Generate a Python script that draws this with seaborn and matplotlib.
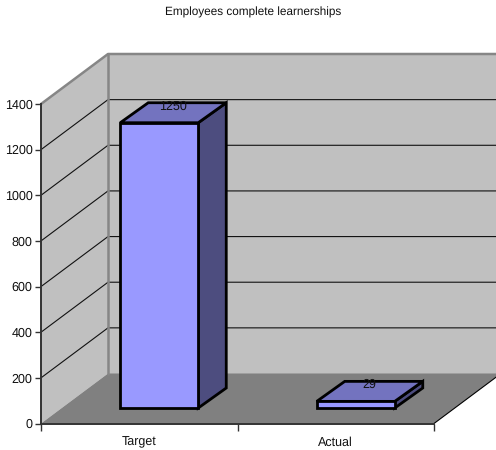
import matplotlib
matplotlib.use("Agg")
import matplotlib.pyplot as plt
from matplotlib.patches import Polygon
from matplotlib.transforms import Affine2D
import seaborn as sns

title = "Employees complete learnerships"
categories = ["Target", "Actual"]
values = [1250, 29]
y_ticks = [0, 200, 400, 600, 800, 1000, 1200, 1400]

sns.set_theme(style="white")
plt.rcParams["font.family"] = ["Liberation Sans", "DejaVu Sans"]
plt.rcParams["text.hinting"] = "no_hinting"

W, H = 496, 450
fig = plt.figure(figsize=(W / 100, H / 100), dpi=100, facecolor="white")
ax = fig.add_axes([41 / W, (H - 423.5) / H, 393 / W, 319.5 / H], facecolor="none")

XMIN, XMAX, YMAX = -0.5, 1.5, 1400
ux = (XMAX - XMIN) / 393  # data units per pixel
uy = YMAX / 319.5
wall_dx, wall_dy = 67 * ux, 50 * uy
ax.set_xlim(XMIN, XMAX)
ax.set_ylim(0, YMAX)

WALL, FLOOR, EDGE, AX = "#c0c0c0", "#808080", "#868686", "#333333"
poly = dict(clip_on=False)
ax.add_patch(Polygon([(XMIN, 0), (XMIN + wall_dx, wall_dy), (XMIN + wall_dx, YMAX + wall_dy),
                      (XMIN, YMAX)], fc=WALL, ec="none", zorder=0, **poly))
ax.add_patch(Polygon([(XMIN + wall_dx, wall_dy), (XMAX + wall_dx, wall_dy),
                      (XMAX + wall_dx, YMAX + wall_dy), (XMIN + wall_dx, YMAX + wall_dy)],
                     fc=WALL, ec="none", zorder=0, **poly))
ax.add_patch(Polygon([(XMIN, 0), (XMAX, 0), (XMAX + wall_dx, wall_dy), (XMIN + wall_dx, wall_dy)],
                     fc=FLOOR, ec="none", zorder=0.5, **poly))

for t in y_ticks[1:-1]:
    ax.plot([XMIN, XMIN + wall_dx, XMAX + wall_dx], [t, t + wall_dy, t + wall_dy],
            color="#111111", lw=0.8, zorder=1, clip_on=False, solid_joinstyle="miter")
ax.plot([XMIN, XMIN + wall_dx, XMAX + wall_dx], [YMAX, YMAX + wall_dy, YMAX + wall_dy],
        color=EDGE, lw=1.8, zorder=1.2, clip_on=False)
ax.plot([XMIN + wall_dx, XMIN + wall_dx], [wall_dy, YMAX + wall_dy],
        color=EDGE, lw=1.8, zorder=1.2, clip_on=False)
ax.plot([XMAX, XMAX + wall_dx], [0, wall_dy], color="black", lw=0.8, zorder=1.2, clip_on=False)

# front faces through seaborn, shifted back onto the floor
front_dx, front_dy = 20, 15.5
bar_width = 78 * ux
sns.barplot(x=categories, y=values, ax=ax, width=bar_width, color="#9999ff", saturation=1,
            edgecolor="black", linewidth=2, zorder=3)
ax.set_xlim(XMIN, XMAX)
ax.set_ylim(0, YMAX)
shift = ax.transData + Affine2D().translate(front_dx, front_dy)
for p in ax.patches:
    if p.get_zorder() == 3:
        p.set_transform(shift)
        p.set_clip_on(False)

bar_dx, bar_dy = 28 * ux, 20 * uy
for i, v in enumerate(values):
    l, r = i - bar_width / 2, i + bar_width / 2
    ax.add_patch(Polygon([(r, 0), (r + bar_dx, bar_dy), (r + bar_dx, v + bar_dy), (r, v)],
                         fc="#4d4d7f", ec="black", lw=2, zorder=2.8, transform=shift,
                         clip_on=False, joinstyle="miter"))
    ax.add_patch(Polygon([(l, v), (r, v), (r + bar_dx, v + bar_dy), (l + bar_dx, v + bar_dy)],
                         fc="#7373bf", ec="black", lw=2, zorder=2.9, transform=shift,
                         clip_on=False, joinstyle="miter"))
    ax.annotate(str(v), (i, v), xytext=(34 * 0.72, 32 * 0.72), textcoords="offset points",
                ha="center", va="center", fontsize=9, color="#111111", zorder=5,
                annotation_clip=False)

for s in ("top", "right"):
    ax.spines[s].set_visible(False)
for s in ("left", "bottom"):
    ax.spines[s].set_color(AX)
    ax.spines[s].set_linewidth(1.4)
    ax.spines[s].set_zorder(4)

ax.set_yticks(y_ticks)
ax.set_xticks([0, 1])
ax.set_xticklabels(categories)
ax.set_xticks([XMIN, 0.5, XMAX], minor=True)
ax.tick_params(axis="y", which="major", left=True, length=4, width=1, color=AX,
               labelsize=9, labelcolor="#111111", pad=2)
ax.tick_params(axis="x", which="major", bottom=False, labelsize=9, labelcolor="#111111", pad=3)
ax.tick_params(axis="x", which="minor", bottom=True, length=5, width=1, color=AX)
ax.set_xlabel("")
ax.set_ylabel("")

fig.text(253.5 / W, 1 - 12.5 / H, title, ha="center", va="center", fontsize=8.5, color="#111111")
fig.savefig("out.png", dpi=100)
